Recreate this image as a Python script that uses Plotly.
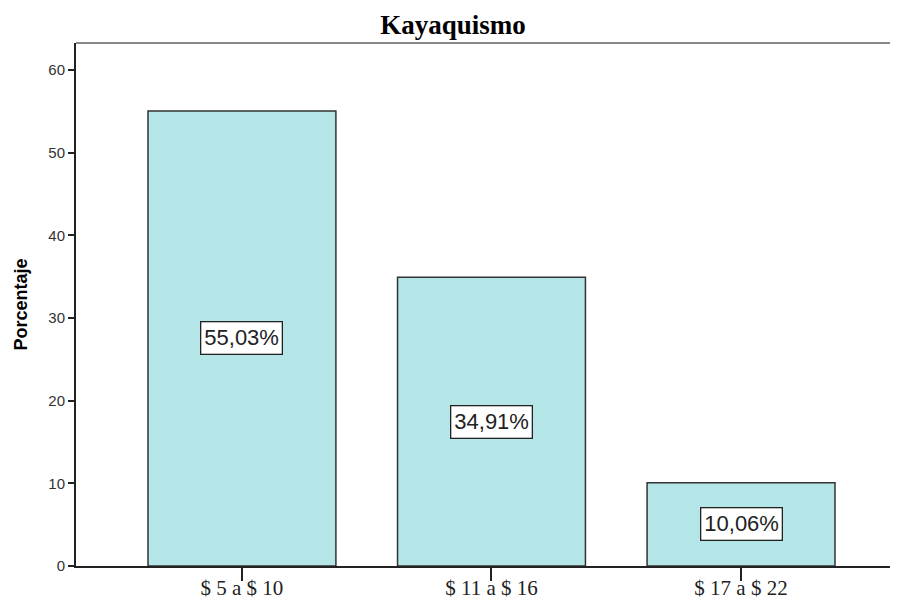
import plotly.graph_objects as go

categories = ["$ 5 a $ 10", "$ 11 a $ 16", "$ 17 a $ 22"]
percentages = [55.03, 34.91, 10.06]
labels = ["55,03%", "34,91%", "10,06%"]
y_ticks = [0, 10, 20, 30, 40, 50, 60]

x_idx = list(range(len(categories)))

fig = go.Figure()
fig.add_trace(go.Bar(
    x=x_idx, y=percentages, width=0.753,
    marker=dict(color="#b5e6e7", line=dict(color="#333333", width=1.5)),
    hoverinfo="skip",
))

for i, (v, lab) in enumerate(zip(percentages, labels)):
    fig.add_annotation(
        x=i, y=v / 2, text=lab, showarrow=False,
        font=dict(family="Arial, Liberation Sans", size=22, color="#222222"),
        bgcolor="white", bordercolor="#222222", borderwidth=1.3, borderpad=3,
    )

# y-axis title
fig.add_annotation(
    xref="paper", yref="paper", x=-0.0682, y=0.5, xanchor="center", yanchor="middle",
    text="<b>Porcentaje</b>", textangle=-90, showarrow=False,
    font=dict(family="Arial, Liberation Sans", size=18, color="black"),
)

fig.update_layout(
    width=890, height=592,
    margin=dict(l=68, r=1, t=35, b=34, autoexpand=False),
    plot_bgcolor="white", paper_bgcolor="white",
    showlegend=False,
    title=dict(text="<b>Kayaquismo</b>", x=0.5, xanchor="center", y=0.9713, yanchor="middle",
               font=dict(family="Liberation Serif, Times New Roman, serif", size=27, color="black")),
    xaxis=dict(
        range=[-0.665, 2.625], tickmode="array", tickvals=x_idx, ticktext=categories,
        ticks="outside", ticklen=13, tickwidth=2, tickcolor="#222222", automargin=False,
        ticklabelstandoff=-11,
        showline=True, linecolor="#222222", linewidth=2, showgrid=False, zeroline=False,
        tickfont=dict(family="Liberation Serif, Times New Roman, serif", size=21, color="#222222"),
    ),
    yaxis=dict(
        range=[0, 63.25], tickmode="array", tickvals=y_ticks, automargin=False,
        ticks="outside", ticklen=6, tickwidth=2, tickcolor="#222222",
        showline=True, linecolor="#222222", linewidth=2, showgrid=False, zeroline=False,
        tickfont=dict(family="Arial, Liberation Sans", size=15, color="#333333"),
    ),
    shapes=[
        dict(type="line", xref="paper", yref="paper", x0=0, x1=1, y0=1, y1=1,
             line=dict(color="#888888", width=2)),
        dict(type="line", xref="paper", yref="paper", x0=1, x1=1, y0=0, y1=1,
             line=dict(color="#888888", width=2)),
    ],
)

fig.write_html("out.html")
